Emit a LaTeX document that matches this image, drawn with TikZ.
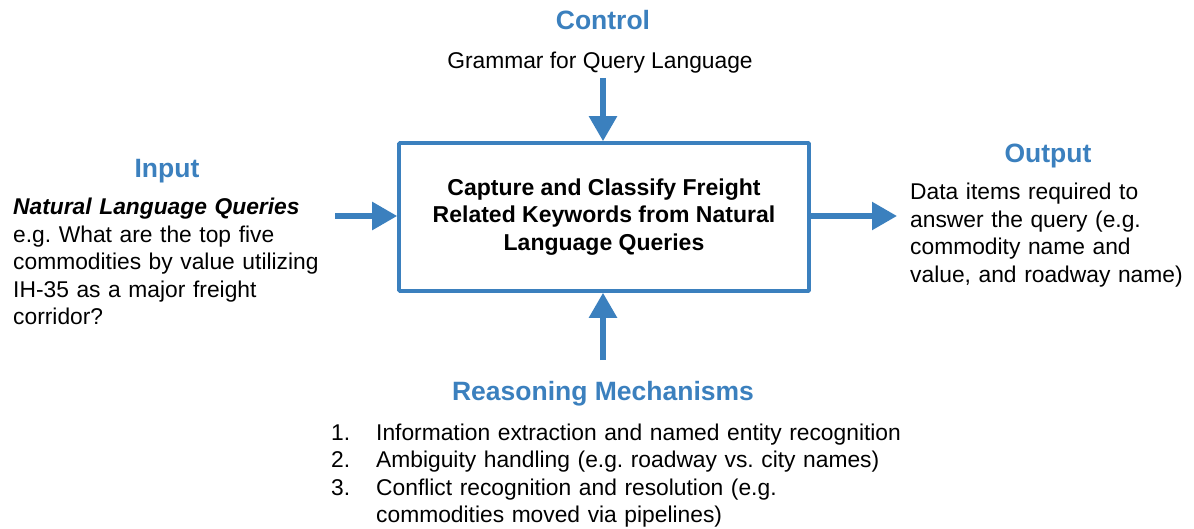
\documentclass[tikz,border=0pt]{standalone}
\usepackage{fontspec}
\setmainfont{Liberation Sans}
\usetikzlibrary{arrows.meta}
\definecolor{idefblue}{RGB}{59,128,190}
\frenchspacing
\tikzset{
  heading/.style={font=\fontsize{26.5}{30}\selectfont\bfseries, text=idefblue, inner sep=0pt, anchor=base},
  bodytext/.style={font=\fontsize{22.8}{27.5}\selectfont, inner sep=0pt, align=left, anchor=base west},
  activity/.style={draw=idefblue, line width=3.6pt, minimum width=410pt, minimum height=148pt,
    rounded corners=0.8pt, font=\fontsize{23}{27.5}\selectfont\bfseries, align=center, inner sep=0pt},
  flow/.style={draw=idefblue, line width=5.5pt, -{Triangle[length=25pt,width=27pt]}}
}
\begin{document}
\begin{tikzpicture}[x=1pt,y=-1pt]
\useasboundingbox (0,0) rectangle (1194,529);

% central activity box
\node[activity] (act) at (604,217) {Capture and Classify Freight\\Related Keywords from Natural\\Language Queries};

% control (top)
\node[heading] (ctltitle) at (603,30) {Control};
\node[font=\fontsize{22.8}{27.5}\selectfont, inner sep=0pt, anchor=base] (ctltext) at (600,69) {Grammar for Query Language};
\coordinate (ctlstart) at (603,78);
\draw[flow] (ctlstart) -- (act.north -| ctlstart);

% input (left)
\node[heading] (intitle) at (167,178) {Input};
\node[bodytext, text width=330pt] (intext) at (13,215)
  {\textbf{\textit{Natural Language Queries}}\\
   e.g. What are the top five\\
   commodities by value utilizing\\
   IH-35 as a major freight\\
   corridor?};
\coordinate (instart) at (335,216);
\draw[flow] (instart) -- (act.west |- instart);

% output (right)
\node[heading] (outtitle) at (1048,163) {Output};
\node[bodytext, text width=290pt] (outtext) at (910,200)
  {Data items required to\\
   answer the query (e.g.\\
   commodity name and\\
   value, and roadway name)};
\coordinate (outend) at (897,216);
\draw[flow] (act.east |- outend) -- (outend);

% mechanisms (bottom)
\node[heading] (mechtitle) at (603,400) {Reasoning Mechanisms};
\coordinate (mechstart) at (603,360);
\draw[flow] (mechstart) -- (act.south -| mechstart);
\node[bodytext, text width=600pt] (mechtext) at (331,440)
  {\makebox[45pt][l]{1.}Information extraction and named entity recognition\\
   \makebox[45pt][l]{2.}Ambiguity handling (e.g. roadway vs. city names)\\
   \makebox[45pt][l]{3.}Conflict recognition and resolution (e.g.\\
   \hspace*{45pt}commodities moved via pipelines)};
\end{tikzpicture}
\end{document}
